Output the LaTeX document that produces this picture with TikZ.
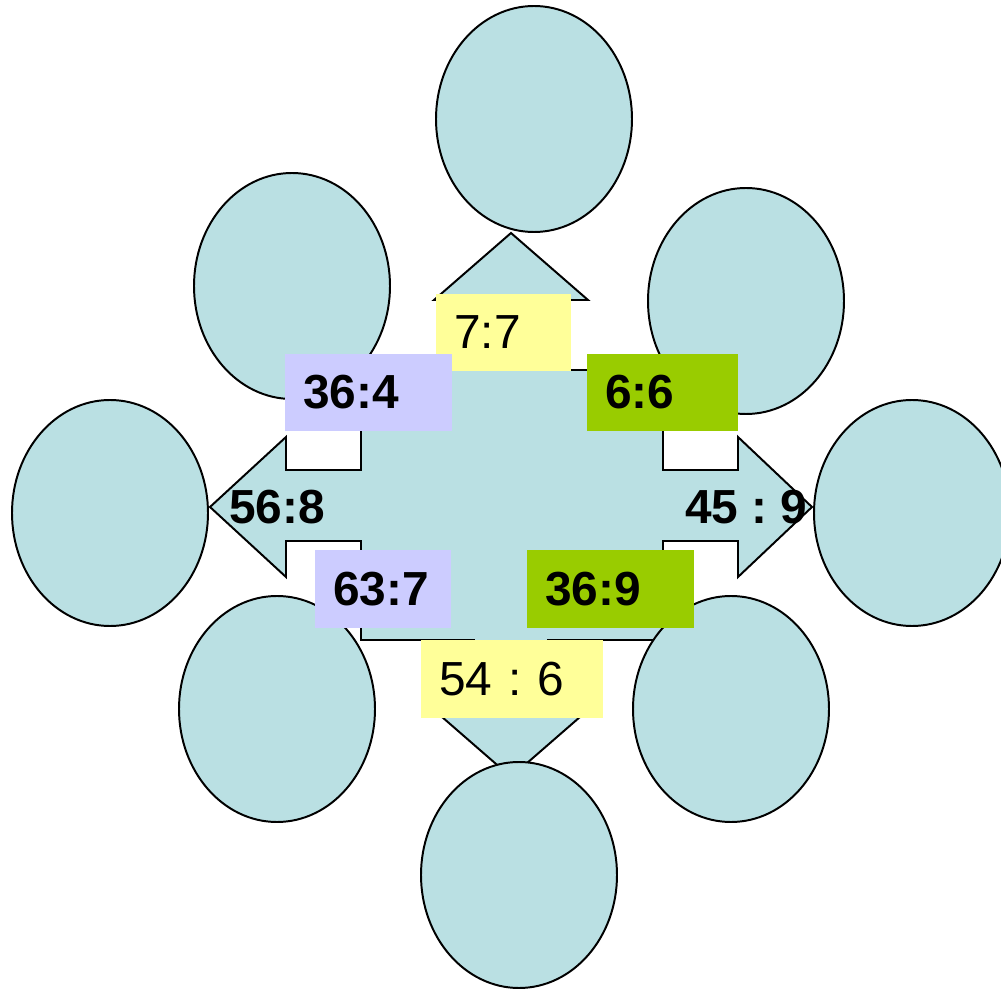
\documentclass[tikz,border=0pt]{standalone}
\usepackage{fontspec}
\setmainfont{Liberation Sans}
\frenchspacing
\definecolor{bubble}{RGB}{186,224,227}
\definecolor{lemon}{RGB}{255,255,153}
\definecolor{lilac}{RGB}{204,204,255}
\definecolor{leaf}{RGB}{153,204,0}

\begin{document}
\begin{tikzpicture}[x=0.025cm, y=-0.025cm,
        blob/.style={draw, fill=bubble, line width=1.4pt},
        tag/.style 2 args={anchor=west, fill=#1, text width=#2, align=left, inner xsep=0.45cm, inner ysep=0pt, minimum height=1.925cm, font=\fontsize{34}{40}\selectfont\frenchspacing},
        sum/.style={anchor=base west, inner sep=0pt, font=\fontsize{34}{40}\selectfont\bfseries\frenchspacing}]
            \useasboundingbox (0, 0) rectangle (1001, 990);
            \clip (0, 0) rectangle (1001, 990);
            % four-way arrow
            \draw[blob] (511, 233) -- (588, 300) -- (548, 300) -- (548, 370) -- (663, 370) -- (663, 470) -- (738, 470) -- (738, 437) -- (812, 507) -- (738, 577) -- (738, 541) -- (663, 541) -- (663, 640) -- (548, 640) -- (548, 710) -- (588, 710) -- (511, 777) -- (434, 710) -- (474, 710) -- (474, 640) -- (361, 640) -- (361, 541) -- (286, 541) -- (286, 577) -- (210, 507) -- (286, 437) -- (286, 470) -- (361, 470) -- (361, 370) -- (474, 370) -- (474, 300) -- (434, 300) -- cycle;
            % ovals round it
            \foreach \cx/\cy in {534/119, 292/286, 746/301, 110/513, 912/513, 277/709, 731/709, 519/875}
                \draw[blob] (\cx, \cy) ellipse [x radius=98, y radius=113];
            % sums
            \node[tag={lemon}{2.475cm}] (q77) at (436, 332.5) {7:7};
            \node[tag={lilac}{3.275cm}] (q364) at (285, 392.5) {\bfseries 36:4};
            \node[tag={leaf}{2.875cm}] (q66) at (587, 392.5) {\bfseries 6:6};
            \node[tag={lilac}{2.5cm}] (q637) at (315, 589) {\bfseries 63:7};
            \node[tag={leaf}{3.275cm}] (q369) at (527, 589) {\bfseries 36:9};
            \node[tag={lemon}{3.65cm}] (q546) at (421, 679) {54 : 6};
            \node[sum] (q568) at (229, 524) {56:8};
            \node[sum] (q459) at (685, 524) {45 : 9};
        \end{tikzpicture}
\end{document}
